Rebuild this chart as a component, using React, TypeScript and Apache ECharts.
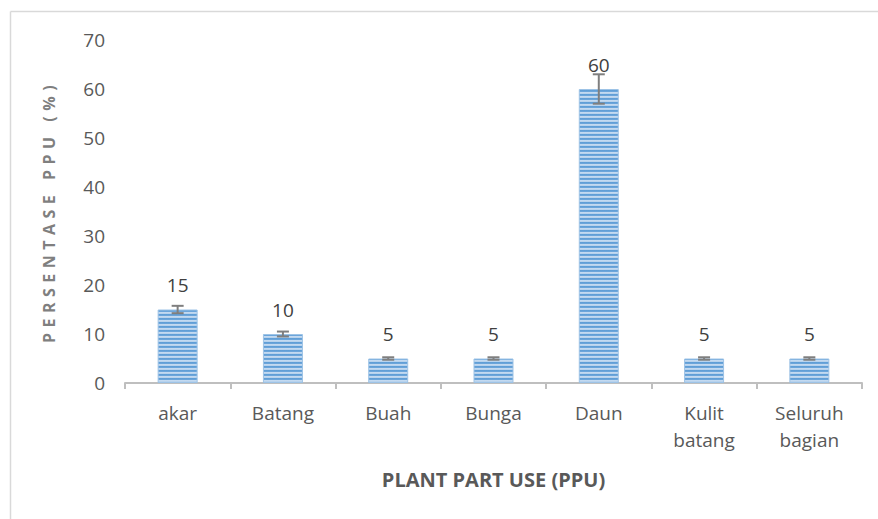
import React, { useEffect, useRef } from "react";
import * as echarts from "echarts";

const categories = ["akar", "Batang", "Buah", "Bunga", "Daun", "Kulit\nbatang", "Seluruh\nbagian"];
const values = [15, 10, 5, 5, 60, 5, 5];
const errors = [0.75, 0.5, 0.25, 0.25, 3, 0.25, 0.25];
const yTicks = { min: 0, max: 70, interval: 10 };

const FONT = "'Open Sans', 'Noto Sans', sans-serif";

function stripeStops() {
  const stops: { offset: number; color: string }[] = [];
  const y0 = 30, y1 = 390, period = 4;
  const span = y1 - y0;
  for (let y = y0; y < y1; y += period) {
    const a = (y - y0) / span;
    const b = (y + period * 0.5 - y0) / span;
    const c = (y + period - y0) / span;
    stops.push({ offset: a, color: "#5B9BD5" });
    stops.push({ offset: Math.min(1, b - 0.0005), color: "#6FA7DB" });
    stops.push({ offset: Math.min(1, b), color: "#C9DDF2" });
    stops.push({ offset: Math.min(1, c - 0.0005), color: "#B3D0EC" });
  }
  return { y0, y1, stops };
}

export default function App() {
  const ref = useRef<HTMLDivElement>(null);
  useEffect(() => {
    if (!ref.current) return;
    const chart = echarts.init(ref.current, null, { renderer: "svg" });
    const s = stripeStops();
    const fill = new echarts.graphic.LinearGradient(0, s.y0, 0, s.y1, s.stops, true);
    chart.setOption({
      animation: false,
      backgroundColor: "#ffffff",
      textStyle: { fontFamily: FONT },
      graphic: [
        { type: "line", shape: { x1: 10.5, y1: 11.5, x2: 878, y2: 11.5 }, style: { stroke: "#d9d9d9", lineWidth: 1.5 } },
        { type: "line", shape: { x1: 10.5, y1: 11.5, x2: 10.5, y2: 519 }, style: { stroke: "#d9d9d9", lineWidth: 1.5 } },
      ],
      grid: { left: 125, right: 16, top: 40, bottom: 136 },
      xAxis: {
        type: "category",
        data: categories,
        name: "PLANT PART USE (PPU)",
        nameLocation: "middle",
        nameGap: 86,
        nameTextStyle: { fontFamily: FONT, fontSize: 20, fontWeight: "bold", color: "#595959" },
        axisLine: { lineStyle: { color: "#bfbfbf", width: 2 } },
        axisTick: { show: true, length: 6, lineStyle: { color: "#bfbfbf", width: 2 } },
        axisLabel: { fontFamily: FONT, fontSize: 19, color: "#595959", margin: 16, lineHeight: 27 },
      },
      yAxis: {
        type: "value",
        min: yTicks.min,
        max: yTicks.max,
        interval: yTicks.interval,
        name: "PERSENTASE PPU (%)",
        nameLocation: "middle",
        nameGap: 68,
        nameTextStyle: { fontFamily: FONT, fontSize: 16, fontWeight: "bold", color: "#7f7f7f" },
        axisLine: { show: false },
        axisTick: { show: false },
        splitLine: { show: false },
        axisLabel: { fontFamily: FONT, fontSize: 19, color: "#595959", margin: 20 },
      },
      series: [
        {
          type: "bar",
          data: values,
          barWidth: 40,
          itemStyle: { color: fill, borderColor: "#9DC3E6", borderWidth: 1 },
          label: {
            show: true,
            position: "top",
            distance: 15,
            fontFamily: FONT,
            fontSize: 19,
            color: "#404040",
          },
        },
        {
          type: "custom",
          data: values.map((v, i) => [i, v - errors[i], v + errors[i]]),
          z: 5,
          renderItem: (params: any, api: any) => {
            const i = api.value(0);
            const lo = api.coord([i, api.value(1)]);
            const hi = api.coord([i, api.value(2)]);
            const hw = 6;
            const st = { stroke: "#7f7f7f", lineWidth: 2 };
            return {
              type: "group",
              children: [
                { type: "line", shape: { x1: hi[0], y1: hi[1], x2: lo[0], y2: lo[1] }, style: st },
                { type: "line", shape: { x1: hi[0] - hw, y1: hi[1], x2: hi[0] + hw, y2: hi[1] }, style: st },
                { type: "line", shape: { x1: lo[0] - hw, y1: lo[1], x2: lo[0] + hw, y2: lo[1] }, style: st },
              ],
            };
          },
        },
      ],
    });
    const texts = ref.current.querySelectorAll("text");
    texts.forEach((t) => {
      if (t.textContent === "PERSENTASE PPU (%)") {
        (t as SVGTextElement).style.letterSpacing = "5.5px";
      }
    });
    return () => chart.dispose();
  }, []);
  return (
    <div
      ref={ref}
      style={{ position: "fixed", left: 0, top: 0, width: 878, height: 519 }}
    />
  );
}
